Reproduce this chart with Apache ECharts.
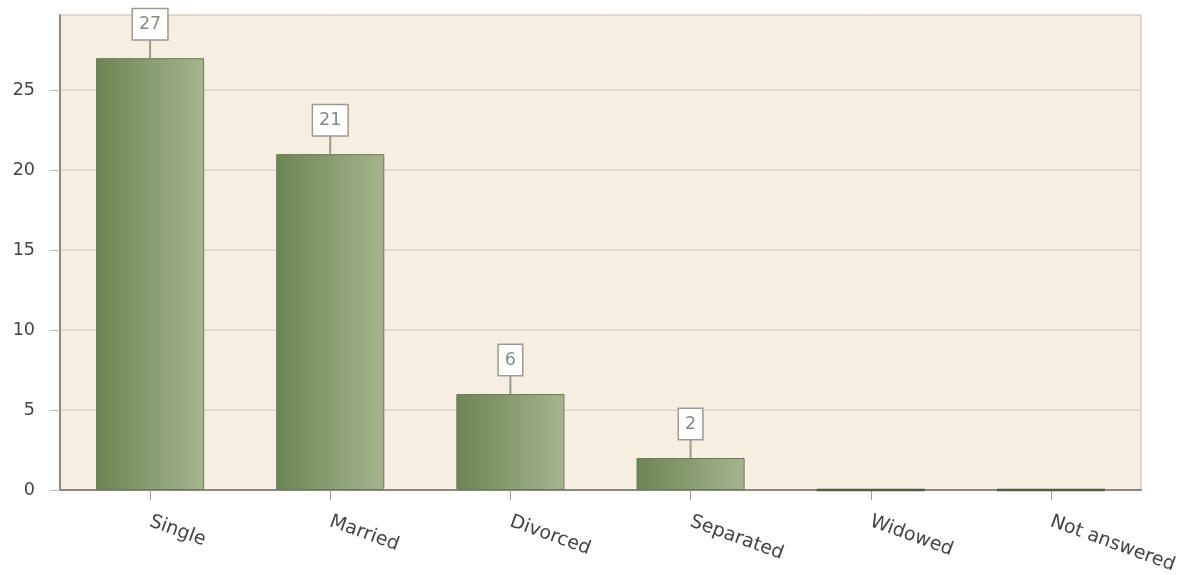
<!DOCTYPE html>
<html>
<head>
<meta charset="utf-8">
<script src="https://cdn.jsdelivr.net/npm/echarts@6/dist/echarts.min.js"></script>
<style>
html,body{margin:0;padding:0;background:#fff;}
#chart{width:1184px;height:575px;}
</style>
</head>
<body>
<div id="chart"></div>
<script>
var categories = ['Single', 'Married', 'Divorced', 'Separated', 'Widowed', 'Not answered'];
var counts = [27, 21, 6, 2, 0, 0];
var yTicks = [0, 5, 10, 15, 20, 25];

var FONT = 'DejaVu Sans, Verdana, sans-serif';
var chart = echarts.init(document.getElementById('chart'));

var barData = counts.map(function (v) {
  if (v === 0) {
    return {value: v, itemStyle: {borderColor: '#4f5e3e', borderWidth: 2.5}};
  }
  return v;
});

chart.setOption({
  backgroundColor: '#ffffff',
  animation: false,
  grid: {left: 60, right: 43, top: 15, bottom: 85, show: true, backgroundColor: '#f6efe1', borderWidth: 1, borderColor: '#c4bcac', outerBoundsMode: 'none', containLabel: false},
  xAxis: {
    type: 'category',
    data: categories,
    axisLine: {show: true, lineStyle: {color: '#8c8a80', width: 2}},
    axisTick: {show: true, alignWithLabel: true, length: 10, lineStyle: {color: '#a09e96', width: 1}},
    axisLabel: {rotate: -20, margin: 31, color: '#444', fontFamily: FONT, fontSize: 19, interval: 0},
    splitLine: {show: false}
  },
  yAxis: {
    type: 'value',
    min: 0,
    max: 29.7,
    interval: 5,
    axisLine: {show: true, lineStyle: {color: '#8c8a80', width: 2}},
    axisTick: {show: true, length: 11, customValues: yTicks, lineStyle: {color: '#c8c0b0', width: 1}},
    axisLabel: {
      margin: 25, color: '#444', fontFamily: FONT, fontSize: 17.5,
      customValues: yTicks,
      formatter: function (v) { return yTicks.indexOf(v) >= 0 ? String(v) : ''; }
    },
    splitLine: {show: true, lineStyle: {color: '#ddd4c2', width: 1.5}}
  },
  series: [
    {
      type: 'bar',
      data: barData,
      barWidth: '60%',
      z: 3,
      itemStyle: {
        color: new echarts.graphic.LinearGradient(0, 0, 1, 0, [
          {offset: 0, color: '#6c8554'},
          {offset: 1, color: '#a5b48e'}
        ]),
        borderColor: '#6b7a58',
        borderWidth: 1
      }
    },
    {
      type: 'custom',
      z: 4,
      data: counts.map(function (v, i) { return [i, v]; }),
      renderItem: function (params, api) {
        var v = api.value(1);
        if (!v) return null;
        var p = api.coord([api.value(0), v]);
        var top = p[1] - 19;
        return {
          type: 'group',
          children: [
            {type: 'line', shape: {x1: p[0], y1: p[1], x2: p[0], y2: top}, style: {stroke: '#9a9a90', lineWidth: 2}},
            {type: 'text', x: p[0], y: top, style: {
              text: String(v), align: 'center', verticalAlign: 'bottom',
              font: '17.5px ' + FONT, fill: '#8a8a84',
              backgroundColor: '#ffffff', borderColor: '#9a9a90', borderWidth: 1.5,
              padding: [5, 6, 5, 6], lineHeight: 20
            }}
          ]
        };
      }
    }
  ]
});
</script>
</body>
</html>
